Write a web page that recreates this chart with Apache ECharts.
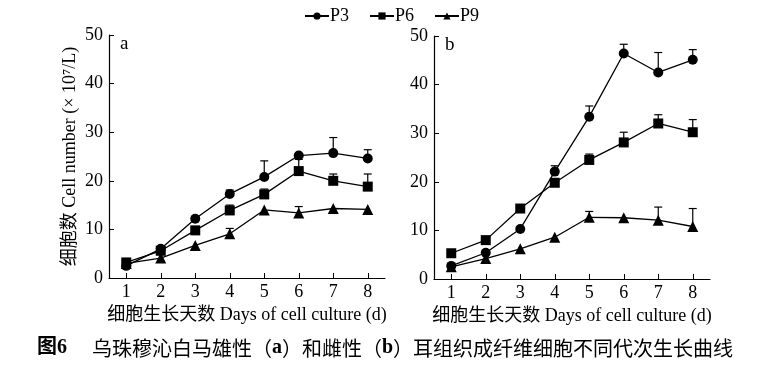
<!DOCTYPE html>
<html><head><meta charset="utf-8">
<script src="https://cdn.jsdelivr.net/npm/echarts@6/dist/echarts.min.js"></script>
<style>html,body{margin:0;padding:0;background:#fff}#c{width:783px;height:368px}</style>
</head><body><div id="c"></div>
<script>
const days = ['1','2','3','4','5','6','7','8'];
const seriesNames = ['P3','P6','P9'];
const yTicks = [0,10,20,30,40,50];
// panel a (male)
const aP3 = [2.5, 6.0, 12.2, 17.3, 20.8, 25.2, 25.7, 24.6];
const aP3err = [0, 0.3, 0.4, 0.8, 3.3, 0, 3.2, 1.8];
const aP6 = [3.2, 5.6, 9.8, 13.9, 17.2, 22.0, 20.0, 18.8];
const aP6err = [0.8, 0, 0, 1.1, 1.1, 2.4, 1.4, 2.6];
const aP9 = [3.0, 4.1, 6.7, 9.1, 14.0, 13.4, 14.3, 14.1];
const aP9err = [0, 0, 0, 1.1, 0, 1.3, 0, 0];
// panel b (female)
const bP3 = [2.7, 5.4, 10.3, 22.1, 33.4, 46.4, 42.5, 45.1];
const bP3err = [0, 0, 0, 1.2, 2.2, 1.9, 4.1, 2.1];
const bP6 = [5.3, 8.0, 14.5, 19.8, 24.5, 28.1, 32.0, 30.2];
const bP6err = [0, 0, 0.4, 0, 1.2, 2.1, 1.8, 2.6];
const bP9 = [2.5, 4.2, 6.2, 8.6, 12.7, 12.6, 12.1, 10.8];
const bP9err = [0, 0, 0, 0, 1.2, 0, 2.7, 3.7];

const serif = '"Liberation Serif","Noto Sans CJK SC",serif';
const symbols = ['circle','rect','triangle'];
const symSizes = [10, 10, 11];

const chart = echarts.init(document.getElementById('c'));

function xAxis(gi){
  return {type:'category', gridIndex:gi, data:days, boundaryGap:true,
    axisLine:{lineStyle:{color:'#000',width:1.2}},
    axisTick:{show:true, inside:true, alignWithLabel:true, length:5, lineStyle:{color:'#000'}},
    axisLabel:{color:'#000', fontFamily:serif, fontSize:18, margin:5},
    name:'细胞生长天数 Days of cell culture (d)', nameLocation:'middle', nameGap:27,
    nameTextStyle:{color:'#000', fontFamily:serif, fontSize:18}};
}
function yAxis(gi, withName){
  const o = {type:'value', gridIndex:gi, min:yTicks[0], max:yTicks[yTicks.length-1], interval:10,
    splitLine:{show:false},
    axisLine:{show:true, lineStyle:{color:'#000',width:1.2}},
    axisTick:{show:true, inside:true, length:5, lineStyle:{color:'#000'}},
    axisLabel:{color:'#000', fontFamily:serif, fontSize:18, margin:6}};
  if (withName){
    o.name = '细胞数 Cell number (× 10⁷/L)';
    o.nameLocation = 'middle'; o.nameGap = 30;
    o.nameTextStyle = {color:'#000', fontFamily:serif, fontSize:18};
  }
  return o;
}
function lineSeries(name, data, idx, gi){
  return {type:'line', name:name, xAxisIndex:gi, yAxisIndex:gi, data:data,
    symbol:symbols[idx], symbolSize:symSizes[idx], z:3,
    itemStyle:{color:'#000'}, lineStyle:{color:'#000', width:1.3}};
}
function errSeries(vals, errs, gi){
  const d = vals.map((v,i)=>[i, v, v+errs[i]]);
  return {type:'custom', xAxisIndex:gi, yAxisIndex:gi, z:2, silent:true,
    data:d,
    renderItem:function(params, api){
      const lo = api.coord([api.value(0), api.value(1)]);
      const hi = api.coord([api.value(0), api.value(2)]);
      if (Math.abs(hi[1]-lo[1]) < 0.5) return null;
      const w = 4;
      return {type:'group', children:[
        {type:'line', shape:{x1:lo[0], y1:lo[1], x2:hi[0], y2:hi[1]}, style:{stroke:'#000', lineWidth:1.2}},
        {type:'line', shape:{x1:hi[0]-w, y1:hi[1], x2:hi[0]+w, y2:hi[1]}, style:{stroke:'#000', lineWidth:1.2}}
      ]};
    }};
}

const option = {
  backgroundColor:'#fff',
  animation:false,
  legend:{top:2, left:'center', itemWidth:24, itemHeight:9, itemGap:20,
    data:seriesNames,
    textStyle:{color:'#000', fontFamily:serif, fontSize:18, padding:[0,0,0,-4]}},
  grid:[
    {left:109, top:35, width:276, height:243},
    {left:434, top:36, width:276, height:243}
  ],
  xAxis:[xAxis(0), xAxis(1)],
  yAxis:[yAxis(0,true), yAxis(1,false)],
  graphic:[
    {type:'text', left:120, top:35, style:{text:'a', font:'19px "Liberation Serif"', fill:'#000'}},
    {type:'text', left:445, top:36, style:{text:'b', font:'19px "Liberation Serif"', fill:'#000'}},
    {type:'text', left:37, top:338, style:{text:'图6', font:'bold 20px "Liberation Serif","Noto Sans CJK SC"', fill:'#000'}},
    {type:'text', left:92, top:338, style:{
      text:'乌珠穆沁白马雄性（{b|a}）和雌性（{b|b}）耳组织成纤维细胞不同代次生长曲线',
      font:'20px "Noto Sans CJK SC"', fill:'#000',
      rich:{b:{fontFamily:'"Liberation Serif"', fontWeight:'bold', fontSize:20, fill:'#000'}}}}
  ],
  series:[
    errSeries(aP3, aP3err, 0), errSeries(aP6, aP6err, 0), errSeries(aP9, aP9err, 0),
    errSeries(bP3, bP3err, 1), errSeries(bP6, bP6err, 1), errSeries(bP9, bP9err, 1),
    lineSeries('P3', aP3, 0, 0), lineSeries('P6', aP6, 1, 0), lineSeries('P9', aP9, 2, 0),
    lineSeries('P3', bP3, 0, 1), lineSeries('P6', bP6, 1, 1), lineSeries('P9', bP9, 2, 1)
  ]
};
chart.setOption(option);
</script></body></html>
